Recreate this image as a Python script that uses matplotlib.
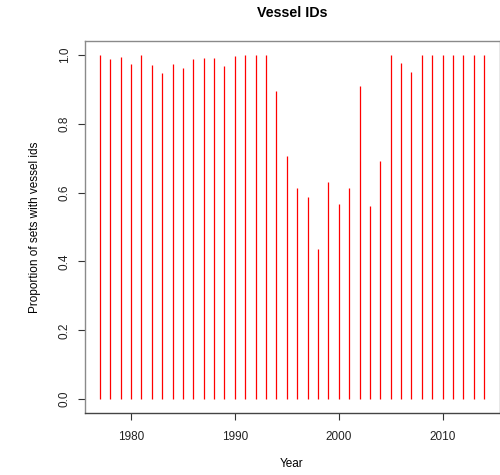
import matplotlib
matplotlib.use('Agg')
import matplotlib.pyplot as plt

# proportion of sets with vessel ids per year
years = list(range(1977, 2015))
proportion = [1.0, 0.987, 0.994, 0.973, 0.999, 0.970, 0.948, 0.973, 0.963, 0.987,
              0.991, 0.991, 0.968, 0.997, 1.0, 1.0, 1.0, 0.895, 0.707, 0.614,
              0.587, 0.437, 0.630, 0.567, 0.613, 0.910, 0.562, 0.693, 1.0, 0.977,
              0.951, 1.0, 1.0, 1.0, 1.0, 1.0, 1.0, 1.0]
xticks = [1980, 1990, 2000, 2010]
yticks = [0.0, 0.2, 0.4, 0.6, 0.8, 1.0]

plt.rcParams['font.family'] = ['Liberation Sans', 'DejaVu Sans']

fig = plt.figure(figsize=(5, 4.75), dpi=100)
ax = fig.add_axes([0.169, 0.1305, 0.83, 0.7832])

ax.vlines(years, 0, proportion, colors='red', linewidth=0.9)

ax.set_xlim(1975.52, 2015.48)
ax.set_ylim(-0.04, 1.04)
ax.set_xticks(xticks)
ax.set_yticks(yticks)
ax.set_yticklabels([f'{t:.1f}' for t in yticks], rotation=90, va='center')

for s in ax.spines.values():
    s.set_color('#8a8a8a')
    s.set_linewidth(1.0)
ax.spines['bottom'].set_color('#444444')

ax.tick_params(axis='both', length=5, width=0.8, color='#333333',
               labelsize=8.5, labelcolor='#222222', pad=5)
ax.tick_params(axis='x', pad=8)

ax.set_xlabel('Year', fontsize=8.5, labelpad=11)
ax.set_ylabel('Proportion of sets with vessel ids', fontsize=8.5, labelpad=13)
ax.set_title('Vessel IDs', fontsize=10.3, fontweight='bold', pad=17)

plt.savefig('out.png', dpi=100)
